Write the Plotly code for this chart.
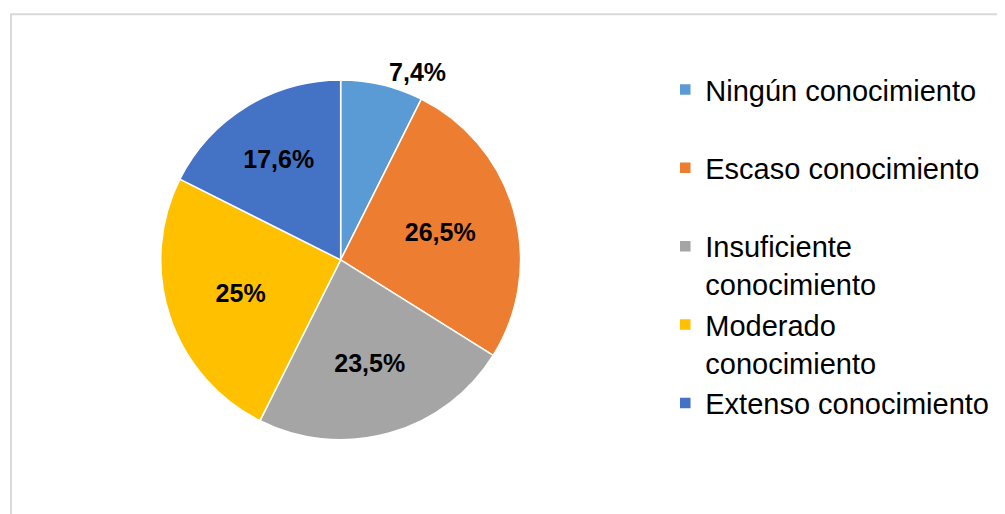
import plotly.graph_objects as go

categories = ["Ningún conocimiento", "Escaso conocimiento", "Insuficiente conocimiento",
              "Moderado conocimiento", "Extenso conocimiento"]
legend_names = ["Ningún conocimiento<br> ", "Escaso conocimiento<br> ",
                "Insuficiente<br>conocimiento", "Moderado<br>conocimiento",
                "Extenso conocimiento<br> "]
values = [7.4, 26.5, 23.5, 25.0, 17.6]
colors = ["#5B9BD5", "#ED7D31", "#A5A5A5", "#FFC000", "#4472C4"]
text_positions = ["outside", "inside", "inside", "inside", "inside"]

def fmt(v):
    s = ("%.1f" % v).rstrip("0").rstrip(".")
    return s.replace(".", ",") + "%"

texts = [fmt(v) for v in values]

fig = go.Figure(go.Pie(
    labels=legend_names,
    values=values,
    text=texts,
    textinfo="text",
    textposition=text_positions,
    insidetextorientation="horizontal",
    sort=False,
    direction="clockwise",
    rotation=0,
    marker=dict(colors=colors, line=dict(color="white", width=1.5)),
    textfont=dict(family="Liberation Sans, Arial", size=25, color="black", weight="bold"),
    outsidetextfont=dict(family="Liberation Sans, Arial", size=25, color="black", weight="bold"),
    domain=dict(x=[0.152, 0.51], y=[0.16, 0.86]),
    hovertext=categories,
))

fig.update_layout(
    width=1005, height=514,
    margin=dict(l=0, r=0, t=0, b=0),
    paper_bgcolor="white",
    plot_bgcolor="white",
    font=dict(family="Liberation Sans, Arial", color="black"),
    legend=dict(
        x=0.654, y=0.891, xanchor="left", yanchor="top",
        font=dict(size=29, color="black"),
        valign="top",
        itemwidth=30,
    ),
    shapes=[dict(type="rect", xref="paper", yref="paper",
                 x0=0.003, x1=1.05, y0=-0.05, y1=0.988,
                 line=dict(color="#D9D9D9", width=2))],
)

fig.write_html("out.html")
